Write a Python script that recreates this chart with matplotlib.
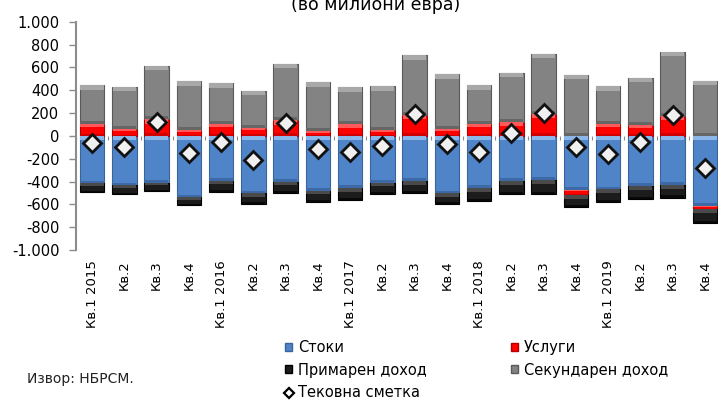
import matplotlib
matplotlib.use("Agg")
import matplotlib.pyplot as plt
import numpy as np
from matplotlib.patches import Patch
from matplotlib.lines import Line2D
from matplotlib.ticker import FixedLocator, NullFormatter

plt.rcParams['font.family'] = ['DejaVu Sans']

quarters = ["Кв.1 2015", "Кв.2", "Кв.3", "Кв.4",
            "Кв.1 2016", "Кв.2", "Кв.3", "Кв.4",
            "Кв.1 2017", "Кв.2", "Кв.3", "Кв.4",
            "Кв.1 2018", "Кв.2", "Кв.3", "Кв.4",
            "Кв.1 2019", "Кв.2", "Кв.3", "Кв.4"]

goods = [-417, -434, -411, -539, -397, -504, -405, -481, -458, -414,
         -397, -504, -458, -397, -388, -472, -469, -437, -429, -612]
services = [108, 58, 146, 50, 108, 70, 137, 41, 102, 50,
            187, 58, 108, 122, 195, -50, 105, 93, 175, -32]
primary = [-79, -76, -73, -70, -93, -97, -96, -96, -105, -96,
           -102, -97, -116, -113, -122, -105, -114, -117, -113, -120]
secondary = [338, 371, 469, 428, 353, 324, 496, 428, 324, 384,
             519, 484, 338, 432, 525, 536, 332, 417, 563, 484]
current = [-67, -96, 117, -146, -52, -213, 111, -111, -140, -90,
           195, -73, -140, 26, 201, -102, -157, -52, 184, -283]

series_names = ["Стоки", "Услуги", "Примарен доход", "Секундарен доход"]
series_vals = [goods, services, primary, secondary]
series_colors = ["#4f84c8", "#ff0000", "#1c1c1c", "#838383"]
top_colors = ["#8cb6e8", "#ff5a5a", "#4a4a4a", "#a8a8a8"]
bot_colors = ["#3d6aa6", "#d00000", "#080808", "#666666"]
edge_colors = ["#3a649c", "#b00000", "#000000", "#5a5a5a"]
current_name = "Тековна сметка"

yticks = [-1000, -800, -600, -400, -200, 0, 200, 400, 600, 800, 1000]
ytick_labels = ["-1.000", "-800", "-600", "-400", "-200", "0", "200", "400", "600", "800", "1.000"]

fig = plt.figure(figsize=(7.18, 4.01), dpi=100)
ax = fig.add_axes([76/718, 1-250/401, 645/718, (250-21.7)/401])

x = np.arange(len(quarters))
w = 0.76
band = 40.0
pos_base = np.zeros(len(x))
neg_base = np.zeros(len(x))
for vals, col, tc, bc, ec in zip(series_vals, series_colors, top_colors, bot_colors, edge_colors):
    v = np.array(vals, dtype=float)
    bottoms = np.where(v >= 0, pos_base, neg_base)
    lo = np.minimum(bottoms, bottoms + v)
    hi = np.maximum(bottoms, bottoms + v)
    h = hi - lo
    b = np.minimum(band, h * 0.3)
    ax.bar(x, h, w, bottom=lo, color=col, edgecolor=ec, linewidth=0.8, zorder=2)
    ax.bar(x, b, w * 0.96, bottom=hi - b, color=tc, linewidth=0, zorder=2.1)
    ax.bar(x, b * 0.6, w * 0.96, bottom=lo, color=bc, linewidth=0, zorder=2.1)
    pos_base = pos_base + np.where(v >= 0, v, 0)
    neg_base = neg_base + np.where(v < 0, v, 0)

ax.plot(x, current, linestyle='none', marker='D', markersize=9,
        markerfacecolor='#f0f0f0', markeredgecolor='#111111', markeredgewidth=2, zorder=5)

ax.set_xlim(-0.5, len(x) - 0.5)
ax.set_ylim(-1000, 1000)
ax.set_yticks(yticks)
ax.set_yticklabels(ytick_labels, fontsize=10.5)
ax.tick_params(axis='y', length=5, width=1, color='#8c8c8c', pad=7)

ax.set_xticks(x)
ax.set_xticklabels(quarters, rotation=90, fontsize=9.5, va='top')
ax.tick_params(axis='x', length=0, pad=7.5)

for s in ['top', 'right', 'bottom']:
    ax.spines[s].set_visible(False)
ax.spines['left'].set_color('#8c8c8c')
ax.spines['left'].set_linewidth(1.5)

sec = ax.secondary_xaxis(0.5)
for s in ['top']:
    sec.spines[s].set_visible(False)
sec.spines['bottom'].set_color('#8c8c8c')
sec.spines['bottom'].set_linewidth(1.5)
sec.xaxis.set_ticks_position('bottom')
sec.xaxis.set_major_locator(FixedLocator(list(np.arange(len(x) + 1) - 0.5)))
sec.xaxis.set_major_formatter(NullFormatter())
sec.tick_params(axis='x', which='both', length=3, color='#8c8c8c', direction='out',
                labelbottom=False, labeltop=False)
sec.set_zorder(3)

fig.text(376/718, 1 - 10/401, "(во милиони евра)", ha='center', va='baseline', fontsize=12.5)
fig.text(27/718, 1 - 383/401, "Извор: НБРСМ.", ha='left', va='baseline', fontsize=10,
         color='#222222')

fs = 10.5
col1 = [Patch(facecolor=series_colors[0], edgecolor=edge_colors[0], label=series_names[0]),
        Patch(facecolor=series_colors[2], edgecolor=edge_colors[2], label=series_names[2]),
        Line2D([], [], linestyle='none', marker='D', markersize=5.5, markerfacecolor='white',
               markeredgecolor='black', markeredgewidth=1.6, label=current_name)]
col2 = [Patch(facecolor=series_colors[1], edgecolor=edge_colors[1], label=series_names[1]),
        Patch(facecolor=series_colors[3], edgecolor=edge_colors[3], label=series_names[3])]
common = dict(loc='upper left', frameon=False, handlelength=0.48, handleheight=0.48,
              handletextpad=0.4, labelspacing=0.52, borderaxespad=0, borderpad=0,
              prop={'family': ['DejaVu Sans'], 'size': fs})
leg1 = fig.legend(handles=col1, bbox_to_anchor=(285/718, 1 - 340/401), **common)
leg2 = fig.legend(handles=col2, bbox_to_anchor=(511/718, 1 - 340/401), **common)

fig.savefig("out.png", dpi=100)
